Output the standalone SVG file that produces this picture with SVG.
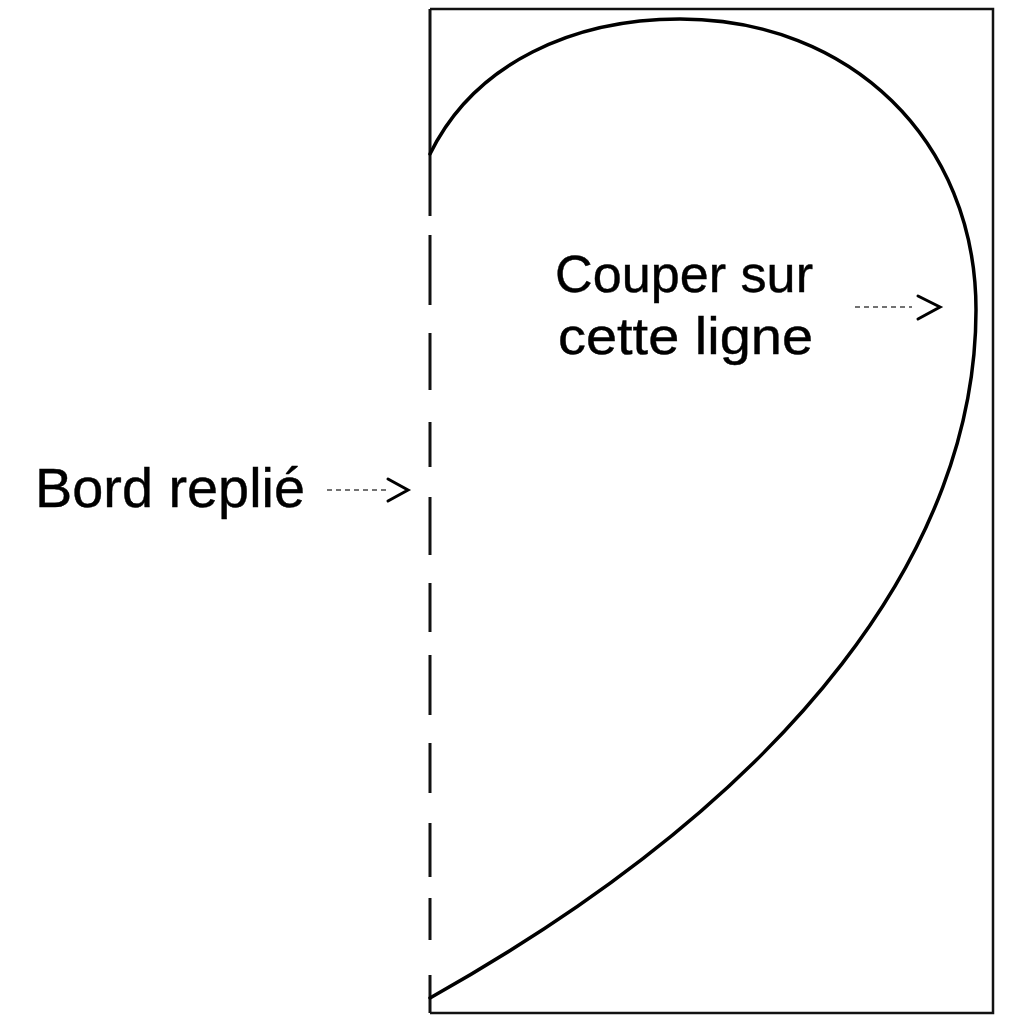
<svg xmlns="http://www.w3.org/2000/svg" width="1024" height="1024" viewBox="0 0 1024 1024">
<style>
.frame{fill:none;stroke:#111;stroke-width:2.5}
.edge{fill:none;stroke:#111;stroke-width:3}
.cut{fill:none;stroke:#000;stroke-width:3.5;stroke-linecap:round}
.lbl{font-family:"Liberation Sans",Arial,sans-serif;fill:#000;stroke:#000;stroke-width:0.4}
.tail{fill:none;stroke:#444;stroke-width:1.6;stroke-dasharray:5 4}
.head{fill:none;stroke:#000;stroke-width:3;stroke-linecap:round;stroke-linejoin:miter}
</style>
<rect width="1024" height="1024" fill="#fff"/>
<g id="frame">
<path class="frame" d="M430,9 H993 V1013 H430"/>
</g>
<g id="fold-edge">
<path class="edge" d="M430,9 V216 M430,235 V305 M430,333 V390 M430,422 V467 M430,497 V555 M430,583 V632 M430,655 V715 M430,743 V793 M430,823 V877 M430,898 V940 M430,975 V1013"/>
</g>
<g id="cut-line">
<path class="cut" d="M430,154 C475,62 575,19 680,19 C850,19 976,140 976,310 C976,545 800,790 430,998"/>
</g>
<g id="label-cut">
<text class="lbl" x="555" y="292" font-size="52" textLength="258" lengthAdjust="spacingAndGlyphs">Couper sur</text>
<text class="lbl" x="558" y="354" font-size="52" textLength="255" lengthAdjust="spacingAndGlyphs">cette ligne</text>
</g>
<g id="label-fold">
<text class="lbl" x="35" y="507" font-size="55" textLength="270" lengthAdjust="spacingAndGlyphs">Bord replié</text>
</g>
<g id="connectors">
<path class="tail" d="M855,307 H912"/>
<path class="head" d="M918,296 L940,307 L918,319"/>
<path class="tail" d="M327,490 H387"/>
<path class="head" d="M388,479 L408,490 L388,501"/>
</g>
</svg>
